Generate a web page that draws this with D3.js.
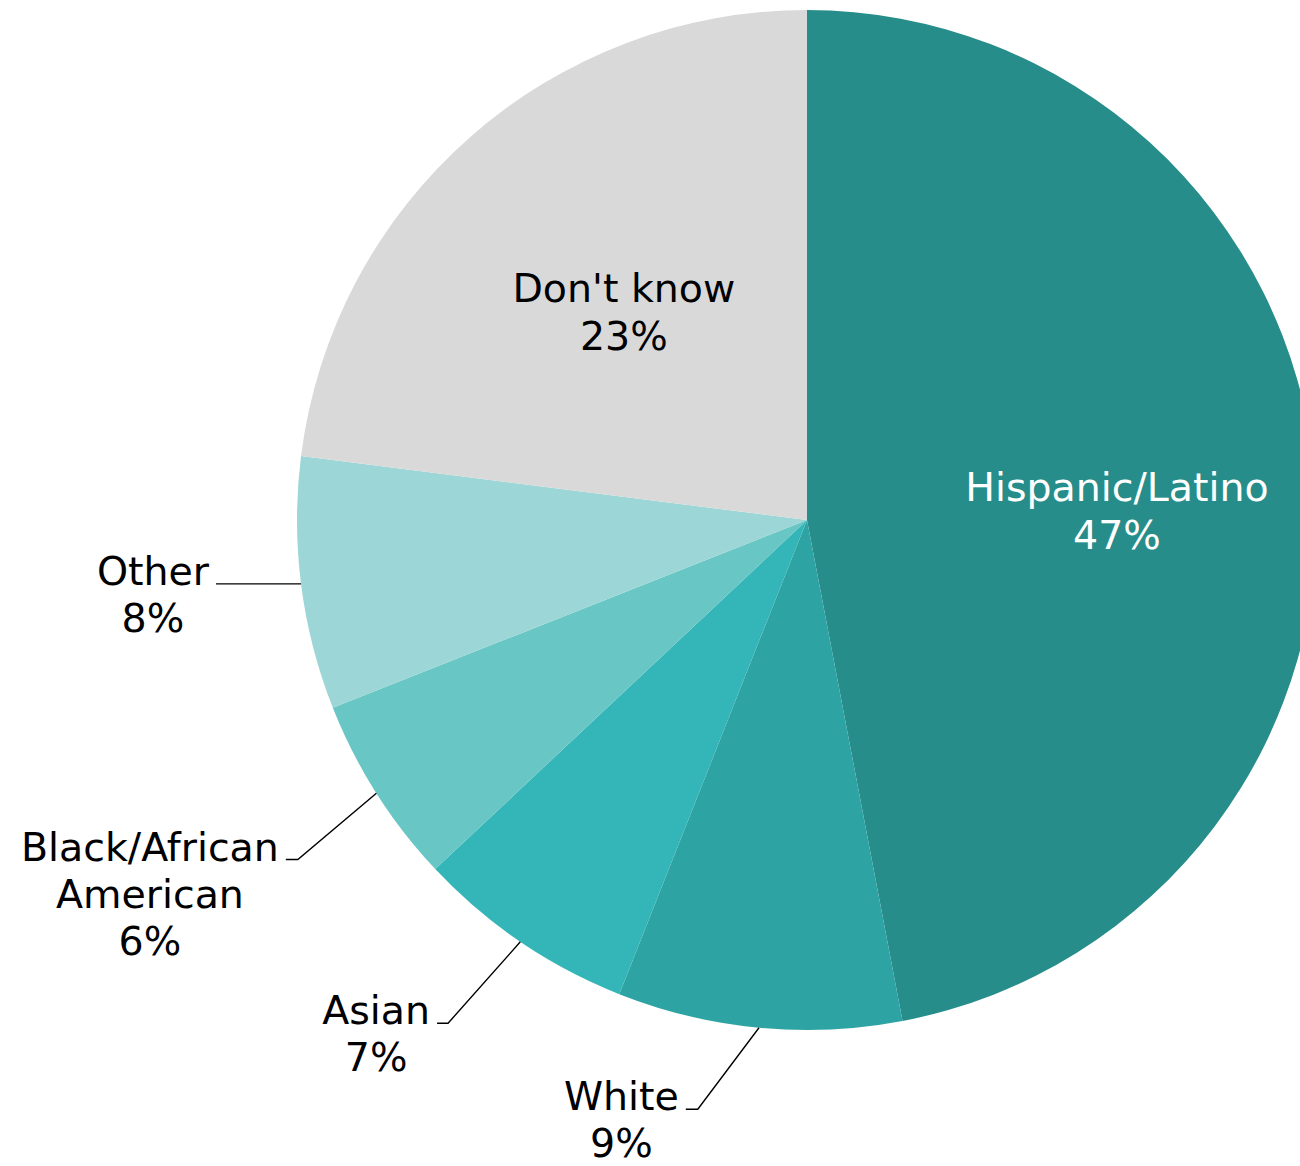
<!DOCTYPE html>
<html>
<head>
<meta charset="utf-8">
<script src="https://cdn.jsdelivr.net/npm/d3@7"></script>
<style>
  body { margin: 0; background: #fff; }
  svg text { font-family: "DejaVu Sans", Verdana, sans-serif; }
</style>
</head>
<body>
<div id="pie"></div>
<script>
// data, clockwise from 12 o'clock
var categories = ["Hispanic/Latino", "White", "Asian", "Black/African American", "Other", "Don't know"];
var values = [47, 9, 7, 6, 8, 23];
var labelLines = [["Hispanic/Latino"], ["White"], ["Asian"], ["Black/African", "American"], ["Other"], ["Don't know"]];
var colors = ["#268d8a", "#2ea3a3", "#34b5b7", "#68c6c5", "#9dd6d6", "#d9d9d9"];

// label layout: inside labels sit at a fraction of the radius,
// outside labels get an elbow leader (radius factor, angle shift in degrees, tail length)
var labelLayout = [
  {inside: true, r: 0.608, shift: 3.7, fill: "#fff"},
  {inside: false, r: 1.175, shift: 5.1, tail: 12},
  {inside: false, r: 1.212, shift: 1.3, tail: 11},
  {inside: false, r: 1.2, shift: -1.3, tail: 12},
  {inside: false, r: 1.0, shift: 0, tail: 85},
  {inside: true, r: 0.543, shift: 0, fill: "#000"}
];

var width = 1300, height = 1166;
var cx = 807, cy = 520, radius = 510;
var fontSize = 39.5, lineH = 47;

var svg = d3.select("#pie")
  .append("svg")
    .attr("width", width)
    .attr("height", height)
  .append("g")
    .attr("transform", "translate(" + cx + "," + cy + ")");

var data = categories.map(function(c, i) { return {name: c, value: values[i], i: i}; });

var pie = d3.pie()
  .sort(null)
  .value(function(d) { return d.value; });

var arc = d3.arc()
  .innerRadius(0)
  .outerRadius(radius);

var arcs = pie(data);

svg.selectAll("path.slice")
  .data(arcs)
  .enter()
  .append("path")
    .attr("class", "slice")
    .attr("fill", function(d) { return colors[d.data.i]; })
    .attr("d", arc);

function polar(r, ang) {
  return [r * Math.sin(ang), -r * Math.cos(ang)];
}

arcs.forEach(function(d) {
  var i = d.data.i;
  var lay = labelLayout[i];
  var mid = (d.startAngle + d.endAngle) / 2;
  var lines = labelLines[i].concat([values[i] + "%"]);

  if (lay.inside) {
    var p = polar(lay.r * radius, mid + lay.shift * Math.PI / 180);
    var t = svg.append("text")
      .attr("text-anchor", "middle")
      .attr("fill", lay.fill)
      .style("font-size", fontSize + "px");
    var top = p[1] - (lines.length - 1) * 48 / 2;
    lines.forEach(function(s, k) {
      t.append("tspan")
        .attr("x", p[0])
        .attr("y", top + k * 48)
        .attr("dy", "0.35em")
        .text(s);
    });
  } else {
    var a = polar(radius, mid);
    var e = lay.r === 1.0 ? a : polar(lay.r * radius, mid + lay.shift * Math.PI / 180);
    var end = [e[0] - lay.tail, e[1]];
    svg.append("path")
      .attr("fill", "none")
      .attr("stroke", "#000")
      .attr("stroke-width", 1.4)
      .attr("d", d3.line()([a, e, end]));

    var t = svg.append("text")
      .attr("text-anchor", "middle")
      .attr("fill", "#000")
      .style("font-size", fontSize + "px");
    var first = t.append("tspan").text(lines[0]);
    var w = first.node().getComputedTextLength();
    var xc = end[0] - 7 - w / 2;
    var base = end[1] + 1;
    first.attr("x", xc).attr("y", base);
    lines.slice(1).forEach(function(s, k) {
      t.append("tspan")
        .attr("x", xc)
        .attr("y", base + (k + 1) * lineH)
        .text(s);
    });
  }
});
</script>
</body>
</html>
